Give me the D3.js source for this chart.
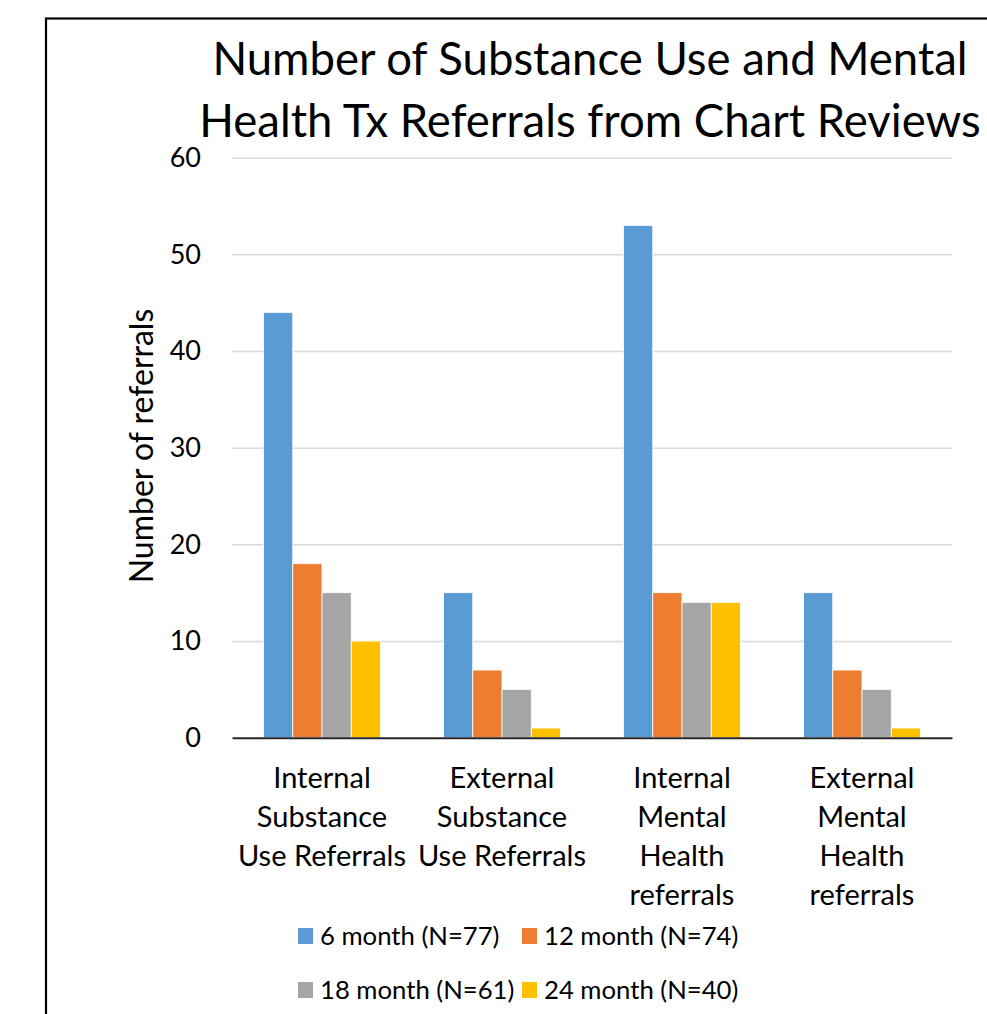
<!DOCTYPE html>
<html>
<head>
<meta charset="utf-8">
<script src="https://cdn.jsdelivr.net/npm/d3@7"></script>
<style>
  html, body { margin: 0; padding: 0; background: #fff; }
  svg { display: block; }
  text { font-family: Lato, "Open Sans", sans-serif; fill: #000; }
</style>
</head>
<body>
<svg id="chart" width="987" height="1014"></svg>
<script>
const titleLines = ["Number of Substance Use and Mental", "Health Tx Referrals from Chart Reviews"];
const yAxisTitle = "Number of referrals";
const categories = [
  "Internal Substance Use Referrals",
  "External Substance Use Referrals",
  "Internal Mental Health referrals",
  "External Mental Health referrals"
];
const categoryLines = [
  ["Internal", "Substance", "Use Referrals"],
  ["External", "Substance", "Use Referrals"],
  ["Internal", "Mental", "Health", "referrals"],
  ["External", "Mental", "Health", "referrals"]
];
const seriesNames = ["6 month (N=77)", "12 month (N=74)", "18 month (N=61)", "24 month (N=40)"];
const seriesColors = ["#5B9BD5", "#ED7D31", "#A5A5A5", "#FFC000"];
const values6 = [44, 15, 53, 15];
const values12 = [18, 7, 15, 7];
const values18 = [15, 5, 14, 5];
const values24 = [10, 1, 14, 1];
const yTicks = [0, 10, 20, 30, 40, 50, 60];

const seriesValues = [values6, values12, values18, values24];

const svg = d3.select("#chart");

// outer frame
svg.append("rect")
  .attr("x", 46).attr("y", 18.5)
  .attr("width", 1000).attr("height", 1100)
  .attr("fill", "none").attr("stroke", "#000").attr("stroke-width", 2.2);

const plot = { left: 232, right: 952, top: 157.7, bottom: 737.7 };

const x = d3.scaleBand().domain(categories).range([plot.left, plot.right])
  .paddingInner(0.35).paddingOuter(0.175);
const xs = d3.scaleBand().domain(d3.range(seriesNames.length)).range([0, x.bandwidth()]);
const y = d3.scaleLinear().domain([0, 60]).range([plot.bottom, plot.top]);

// gridlines
svg.append("g")
  .attr("transform", `translate(${plot.left},0)`)
  .call(d3.axisLeft(y).tickValues(yTicks.filter(t => t > 0)).tickSize(-(plot.right - plot.left)).tickFormat(""))
  .call(g => g.select(".domain").remove())
  .call(g => g.selectAll("line").attr("stroke", "#D9D9D9").attr("stroke-width", 1.5));

// bars
const groups = svg.append("g").selectAll("g")
  .data(categories).join("g")
  .attr("transform", d => `translate(${x(d)},0)`);

groups.selectAll("rect")
  .data((c, ci) => seriesValues.map((vals, si) => ({ si, v: vals[ci] })))
  .join("rect")
  .attr("x", d => xs(d.si))
  .attr("y", d => y(d.v))
  .attr("width", xs.bandwidth())
  .attr("height", d => y(0) - y(d.v))
  .attr("fill", d => seriesColors[d.si])
  .attr("stroke", "#fff").attr("stroke-width", 0.8);

// y axis labels
const yAxis = svg.append("g")
  .attr("transform", `translate(${plot.left},0)`)
  .call(d3.axisLeft(y).tickValues(yTicks).tickSize(0).tickPadding(31).tickFormat(d3.format("d")));
yAxis.select(".domain").remove();
yAxis.selectAll("text")
  .style("font-family", "Lato, sans-serif")
  .attr("font-size", 27).attr("fill", "#000");

// x axis line
const xAxis = svg.append("g")
  .attr("transform", `translate(0,${plot.bottom})`)
  .call(d3.axisBottom(x).tickSize(0).tickFormat(""));
xAxis.select(".domain").attr("stroke", "#262626").attr("stroke-width", 2);

// category labels
categories.forEach((c, i) => {
  const t = svg.append("text")
    .attr("text-anchor", "middle")
    .attr("font-size", 29);
  categoryLines[i].forEach((ln, j) => {
    t.append("tspan")
      .attr("x", x(c) + x.bandwidth() / 2)
      .attr("y", 788 + j * 39)
      .text(ln);
  });
});

// y axis title
svg.append("text")
  .attr("transform", `translate(153,446) rotate(-90)`)
  .attr("text-anchor", "middle")
  .attr("font-size", 32)
  .text(yAxisTitle);

// title
titleLines.forEach((ln, i) => {
  svg.append("text")
    .attr("x", 590).attr("y", 75 + i * 62)
    .attr("text-anchor", "middle")
    .attr("font-size", 45.5)
    .text(ln);
});

// legend
const legendPos = [[298, 936], [522, 936], [298, 990], [522, 990]];
seriesNames.forEach((name, i) => {
  const [lx, ly] = legendPos[i];
  svg.append("rect")
    .attr("x", lx).attr("y", ly - 8)
    .attr("width", 15).attr("height", 16)
    .attr("fill", seriesColors[i]);
  svg.append("text")
    .attr("x", lx + 22).attr("y", ly + 9)
    .attr("font-size", 25.7)
    .text(name);
});
</script>
</body>
</html>
